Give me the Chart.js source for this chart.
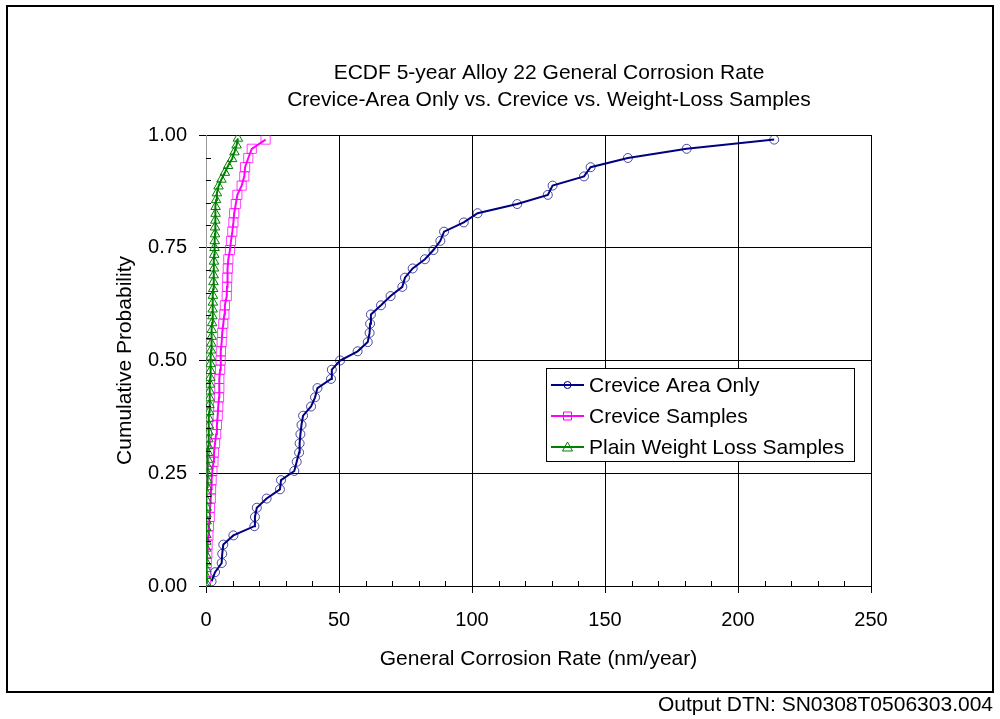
<!DOCTYPE html>
<html>
<head>
<meta charset="utf-8">
<script src="https://cdn.jsdelivr.net/npm/chart.js@4/dist/chart.umd.min.js"></script>
<style>
  html, body { margin: 0; padding: 0; background: #ffffff; }
  canvas { display: block; }
</style>
</head>
<body>
<canvas id="c" width="1000" height="719"></canvas>
<script>
// ---- text ----
const titleLines = ['ECDF 5-year Alloy 22 General Corrosion Rate',
                    'Crevice-Area Only vs. Crevice vs. Weight-Loss Samples'];
const xAxisTitle = 'General Corrosion Rate (nm/year)';
const yAxisTitle = 'Cumulative Probability';
const footerText = 'Output DTN: SN0308T0506303.004';
const seriesNames = ['Crevice Area Only', 'Crevice Samples', 'Plain Weight Loss Samples'];

// ---- axis ticks ----
const xTickValues = [0, 50, 100, 150, 200, 250];
const yTickValues = [0, 0.25, 0.5, 0.75, 1];

// ---- Crevice Area Only (rate nm/yr, cumulative probability) ----
const crevAreaRate = [2.1, 3.4, 5.9, 6.1, 6.5, 10.3, 18.2, 18.4, 19.1, 22.8,
                      27.8, 28.2, 33.2, 34.1, 35.0, 35.2, 35.5, 35.9, 36.5, 39.5,
                      41.0, 41.9, 47.0, 47.3, 50.4, 57.0, 60.8, 61.5, 61.7, 62.0,
                      65.8, 69.4, 73.8, 74.8, 77.7, 82.3, 85.5, 88.1, 89.5, 96.9,
                      102.1, 117.0, 128.5, 130.3, 142.1, 144.6, 158.6, 180.7, 213.6];
const crevAreaProb = [0.0102, 0.0306, 0.0510, 0.0714, 0.0918, 0.1122, 0.1327, 0.1531, 0.1735, 0.1939,
                      0.2143, 0.2347, 0.2551, 0.2755, 0.2959, 0.3163, 0.3367, 0.3571, 0.3776, 0.3980,
                      0.4184, 0.4388, 0.4592, 0.4796, 0.5000, 0.5204, 0.5408, 0.5612, 0.5816, 0.6020,
                      0.6224, 0.6429, 0.6633, 0.6837, 0.7041, 0.7245, 0.7449, 0.7653, 0.7857, 0.8061,
                      0.8265, 0.8469, 0.8673, 0.8878, 0.9082, 0.9286, 0.9490, 0.9694, 0.9898];

// ---- Crevice Samples ----
const crevSampRate = [0.0, 0.1, 0.3, 0.5, 0.6, 0.9, 1.1, 1.4, 1.5, 1.8,
                      1.9, 2.1, 2.4, 2.8, 3.0, 3.4, 3.8, 4.1, 4.4, 4.6,
                      4.9, 5.0, 5.0, 5.3, 5.5, 5.6, 5.9, 6.1, 6.5, 6.9,
                      7.1, 7.8, 7.9, 8.0, 8.2, 8.4, 9.0, 9.4, 9.9, 10.3,
                      10.6, 11.2, 11.8, 13.4, 14.4, 14.7, 15.9, 17.2, 22.4];
const crevSampProb = [0.0102, 0.0306, 0.0510, 0.0714, 0.0918, 0.1122, 0.1327, 0.1531, 0.1735, 0.1939,
                      0.2143, 0.2347, 0.2551, 0.2755, 0.2959, 0.3163, 0.3367, 0.3571, 0.3776, 0.3980,
                      0.4184, 0.4388, 0.4592, 0.4796, 0.5000, 0.5204, 0.5408, 0.5612, 0.5816, 0.6020,
                      0.6224, 0.6429, 0.6633, 0.6837, 0.7041, 0.7245, 0.7449, 0.7653, 0.7857, 0.8061,
                      0.8265, 0.8469, 0.8673, 0.8878, 0.9082, 0.9286, 0.9490, 0.9694, 0.9898];

// ---- Plain Weight Loss Samples ----
const weightLossRate = [0.0, 0.0, 0.05, 0.05, 0.1, 0.1, 0.1, 0.15, 0.15, 0.2,
                        0.2, 0.25, 0.3, 0.35, 0.4, 0.45, 0.5, 0.6, 0.7, 0.75,
                        0.8, 0.9, 1.0, 1.1, 1.1, 1.2, 1.3, 1.4, 1.4, 1.5,
                        1.6, 1.7, 1.7, 1.8, 1.9, 2.0, 2.1, 2.2, 2.3, 2.4,
                        2.5, 2.6, 2.6, 2.7, 2.8, 2.9, 3.0, 3.0, 3.1, 3.2,
                        3.3, 3.4, 3.4, 3.5, 3.6, 3.6, 3.8, 4.1, 4.7, 5.8,
                        7.1, 8.3, 9.8, 10.7, 11.5, 12.0];
const weightLossProb = [0.0076, 0.0227, 0.0379, 0.0530, 0.0682, 0.0833, 0.0985, 0.1136, 0.1288, 0.1439,
                        0.1591, 0.1742, 0.1894, 0.2045, 0.2197, 0.2348, 0.2500, 0.2652, 0.2803, 0.2955,
                        0.3106, 0.3258, 0.3409, 0.3561, 0.3712, 0.3864, 0.4015, 0.4167, 0.4318, 0.4470,
                        0.4621, 0.4773, 0.4924, 0.5076, 0.5227, 0.5379, 0.5530, 0.5682, 0.5833, 0.5985,
                        0.6136, 0.6288, 0.6439, 0.6591, 0.6742, 0.6894, 0.7045, 0.7197, 0.7348, 0.7500,
                        0.7652, 0.7803, 0.7955, 0.8106, 0.8258, 0.8409, 0.8561, 0.8712, 0.8864, 0.9015,
                        0.9167, 0.9318, 0.9470, 0.9621, 0.9773, 0.9924];

// ---- styling ----
const FONT = '"Liberation Sans", Arial, sans-serif';
const NAVY = '#000080', MAGENTA = '#ff00ff', GREEN = '#008000';

function toPoints(xs, ys) { return xs.map((x, i) => ({ x: x, y: ys[i] })); }

// white page, outer frame, two-line title and the DTN footer
const pageDecor = {
  id: 'pageDecor',
  beforeDraw(chart) {
    const ctx = chart.ctx;
    ctx.save();
    ctx.fillStyle = '#ffffff';
    ctx.fillRect(0, 0, chart.width, chart.height);
    ctx.restore();
  },
  afterDraw(chart) {
    const ctx = chart.ctx;
    ctx.save();
    ctx.strokeStyle = '#000000';
    ctx.lineWidth = 2;
    ctx.strokeRect(7, 6, 986, 686);
    ctx.fillStyle = '#000000';
    ctx.font = '21px ' + FONT;
    ctx.textAlign = 'center';
    ctx.textBaseline = 'middle';
    ctx.fillText(titleLines[0], 549, 73);
    ctx.fillText(titleLines[1], 549, 100);
    ctx.textAlign = 'right';
    ctx.fillText(footerText, 993, 705);
    ctx.restore();
  }
};

// short minor tick marks pointing into the plot (every 10 on x, every 0.05 on y)
const minorTicks = {
  id: 'minorTicks',
  afterDatasetsDraw(chart) {
    const ctx = chart.ctx, xs = chart.scales.x, ys = chart.scales.y;
    const area = chart.chartArea;
    ctx.save();
    ctx.strokeStyle = '#000000';
    ctx.lineWidth = 1;
    ctx.beginPath();
    for (let v = 10; v < 250; v += 10) {
      if (v % 50 === 0) continue;
      const px = Math.round(xs.getPixelForValue(v)) + 0.5;
      ctx.moveTo(px, area.bottom);
      ctx.lineTo(px, area.bottom - 5);
    }
    for (let k = 1; k < 20; k++) {
      if (k % 5 === 0) continue;
      const py = Math.round(ys.getPixelForValue(k * 0.05)) + 0.5;
      ctx.moveTo(area.left, py);
      ctx.lineTo(area.left + 5, py);
    }
    ctx.stroke();
    ctx.restore();
  }
};

function drawMarker(ctx, style, x, y, color) {
  ctx.save();
  ctx.strokeStyle = color;
  ctx.lineWidth = 1;
  ctx.beginPath();
  if (style === 'circle') {
    ctx.arc(x, y, 3.5, 0, Math.PI * 2);
  } else if (style === 'rect') {
    ctx.rect(x - 4, y - 4, 8, 8);
  } else {
    ctx.moveTo(x, y - 5);
    ctx.lineTo(x + 5, y + 4);
    ctx.lineTo(x - 5, y + 4);
    ctx.closePath();
  }
  ctx.stroke();
  ctx.restore();
}

// boxed legend inside the plot area
const boxLegend = {
  id: 'boxLegend',
  afterDatasetsDraw(chart) {
    const ctx = chart.ctx;
    const left = 546, top = 368, right = 854, bottom = 461;
    ctx.save();
    ctx.fillStyle = '#ffffff';
    ctx.fillRect(left, top, right - left, bottom - top);
    ctx.strokeStyle = '#000000';
    ctx.lineWidth = 1;
    ctx.strokeRect(left + 0.5, top + 0.5, right - left, bottom - top);
    const rowsY = [385, 416, 447];
    chart.data.datasets.forEach((ds, i) => {
      const y = rowsY[i];
      ctx.strokeStyle = ds.borderColor;
      ctx.lineWidth = 2;
      ctx.beginPath();
      ctx.moveTo(551, y);
      ctx.lineTo(584, y);
      ctx.stroke();
      drawMarker(ctx, ds.pointStyle, 567.5, y, ds.borderColor);
      ctx.fillStyle = '#000000';
      ctx.font = '21px ' + FONT;
      ctx.textAlign = 'left';
      ctx.textBaseline = 'middle';
      ctx.fillText(ds.label, 589, y + 1);
    });
    ctx.restore();
  }
};

const chart = new Chart(document.getElementById('c'), {
  type: 'scatter',
  data: {
    datasets: [
      {
        label: seriesNames[0],
        data: toPoints(crevAreaRate, crevAreaProb),
        showLine: true,
        borderColor: NAVY,
        borderWidth: 2,
        pointStyle: 'circle',
        pointRadius: 4.5,
        pointBorderWidth: 1,
        pointBorderColor: 'rgba(0,0,128,0.7)',
        pointBackgroundColor: 'rgba(0,0,0,0)',
        order: 2
      },
      {
        label: seriesNames[1],
        data: toPoints(crevSampRate, crevSampProb),
        showLine: true,
        borderColor: MAGENTA,
        borderWidth: 2,
        pointStyle: 'rect',
        pointRadius: 6.5,
        pointBorderWidth: 1,
        pointBorderColor: 'rgba(255,0,255,0.75)',
        pointBackgroundColor: 'rgba(0,0,0,0)',
        order: 1
      },
      {
        label: seriesNames[2],
        data: toPoints(weightLossRate, weightLossProb),
        showLine: true,
        borderColor: GREEN,
        borderWidth: 2,
        pointStyle: 'triangle',
        pointRadius: 5.5,
        pointBorderWidth: 1,
        pointBorderColor: GREEN,
        pointBackgroundColor: 'rgba(0,0,0,0)',
        order: 0
      }
    ]
  },
  options: {
    responsive: false,
    animation: false,
    devicePixelRatio: 1,
    layout: { padding: { top: 135, right: 129, bottom: 0, left: 0 } },
    plugins: {
      legend: { display: false },
      title: { display: false },
      tooltip: { enabled: false }
    },
    scales: {
      x: {
        type: 'linear',
        min: 0,
        max: 250,
        afterFit(scale) { scale.height = 133; },
        afterBuildTicks(scale) { scale.ticks = xTickValues.map(v => ({ value: v })); },
        ticks: {
          color: '#000000',
          font: { family: FONT, size: 20 },
          padding: 15,
          maxRotation: 0,
          callback: v => String(v)
        },
        grid: { color: '#000000', lineWidth: 1, tickLength: 7, tickColor: '#000000' },
        border: { color: '#000000', width: 1 },
        title: {
          display: true,
          text: xAxisTitle,
          color: '#000000',
          font: { family: FONT, size: 21 },
          padding: { top: 0, bottom: 47 }
        }
      },
      y: {
        type: 'linear',
        min: 0,
        max: 1,
        afterFit(scale) { scale.width = 206; },
        afterBuildTicks(scale) { scale.ticks = yTickValues.map(v => ({ value: v })); },
        ticks: {
          color: '#000000',
          font: { family: FONT, size: 20 },
          padding: 12,
          callback: v => Number(v).toFixed(2)
        },
        grid: { color: '#000000', lineWidth: 1, tickLength: 7, tickColor: '#000000' },
        border: { color: '#999999', width: 1 },
        title: {
          display: true,
          text: yAxisTitle,
          color: '#000000',
          font: { family: FONT, size: 21 },
          padding: { top: 113, bottom: 0 }
        }
      }
    }
  },
  plugins: [pageDecor, minorTicks, boxLegend]
});
</script>
</body>
</html>
